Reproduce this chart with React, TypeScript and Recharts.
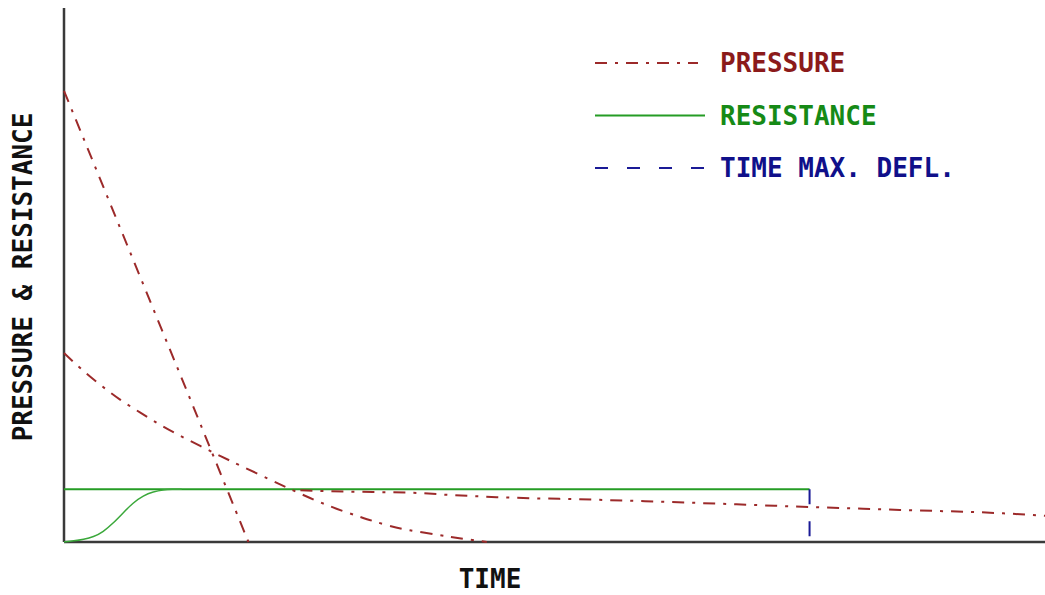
import React from "react";
import { LineChart, Line, XAxis, YAxis, ReferenceLine, Legend } from "recharts";

// time axis runs 0..100, pressure/resistance axis 0..100
const steepTime = [0, 7.8, 13.9, 18.8];
const steepPressure = [84.5, 49.5, 22.1, 0];

const decayTime = [0, 1.6, 3.7, 5.7, 7.8, 9.8, 11.8, 13.9, 15.9, 17.9, 21.3, 23.3, 25.1, 26.8, 28.4, 30.2, 31.5, 33.2, 35.0, 38.3, 40.1, 43.1];
const decayPressure = [35.4, 32.6, 29.4, 26.6, 24.2, 21.9, 19.9, 18.0, 16.1, 14.4, 11.4, 9.7, 8.2, 6.9, 5.8, 4.7, 3.9, 3.0, 2.2, 1.3, 0.75, 0];

const tailTime = [24.1, 26.1, 31.5, 36.0, 39.4, 44.1, 54.6, 64.8, 76.0, 85.2, 95.4, 100];
const tailPressure = [9.7, 9.55, 9.36, 9.18, 8.8, 8.4, 7.9, 7.3, 6.55, 6.0, 5.4, 4.9];

const riseTime = [0, 1.0, 2.0, 3.0, 4.0, 5.0, 6.0, 7.0, 8.1, 9.1, 10.1, 11.0, 12.0];
const riseResistance = [0, 0.2, 0.5, 0.95, 1.9, 3.5, 5.4, 7.3, 8.7, 9.4, 9.8, 9.9, 9.9];

const maxResistance = 9.9;
const maxDeflTime = 76.0;
const maxDeflRange = [9.9, 0.9];

const legendItems = [
  { label: "PRESSURE", color: "#8b1a1a", stroke: "#9c2a2a", dash: "12 8 3 8", len: 103 },
  { label: "RESISTANCE", color: "#168a16", stroke: "#259c25", dash: undefined, len: 110 },
  { label: "TIME MAX. DEFL.", color: "#10108a", stroke: "#1a1a96", dash: "13 19", len: 110 },
];

const zip = (t: number[], v: number[]) => t.map((x, i) => ({ t: x, v: v[i] }));

const steep = zip(steepTime, steepPressure);
const decay = zip(decayTime, decayPressure);
const tail = zip(tailTime, tailPressure);
const rise = zip(riseTime, riseResistance);
const plateau = [{ t: 0, v: maxResistance }, { t: maxDeflTime, v: maxResistance }];
const defl = maxDeflRange.map((v) => ({ t: maxDeflTime, v }));

const FONT = "'DejaVu Sans Mono', monospace";
const PRESSURE_STROKE = "#9c2a2a";
const PRESSURE_DASH = "12 8 3 8";

function LegendBox() {
  return (
    <svg width={420} height={150}>
      {legendItems.map((it, i) => {
        const y = 23 + i * 52.5;
        return (
          <g key={it.label}>
            <line x1={15} x2={15 + it.len} y1={y} y2={y} stroke={it.stroke} strokeWidth={2} strokeDasharray={it.dash} />
            <text x={140} y={y + 9} fill={it.color} fontFamily={FONT} fontWeight="bold" fontSize={26}>
              {it.label}
            </text>
          </g>
        );
      })}
    </svg>
  );
}

export default function App() {
  return (
    <div style={{ position: "absolute", left: 0, top: 0, width: 1045, height: 595, background: "#fff" }}>
      <LineChart width={1045} height={595} margin={{ top: 8, right: 0, left: 64, bottom: 53 }}>
        <XAxis dataKey="t" type="number" domain={[0, 100]} hide />
        <YAxis dataKey="v" type="number" domain={[0, 100]} hide />
        <ReferenceLine x={0} stroke="#3a3a3a" strokeWidth={2.5} />
        <ReferenceLine y={0} stroke="#3a3a3a" strokeWidth={2.5} />
        <Line data={plateau} dataKey="v" type="linear" stroke="#259c25" strokeWidth={2} dot={false} isAnimationActive={false} />
        <Line data={rise} dataKey="v" type="basis" stroke="#3aa83a" strokeWidth={1.5} dot={false} isAnimationActive={false} />
        <Line data={steep} dataKey="v" type="monotone" stroke={PRESSURE_STROKE} strokeWidth={2} strokeDasharray={PRESSURE_DASH} dot={false} isAnimationActive={false} />
        <Line data={decay} dataKey="v" type="basis" stroke={PRESSURE_STROKE} strokeWidth={2} strokeDasharray={PRESSURE_DASH} dot={false} isAnimationActive={false} />
        <Line data={tail} dataKey="v" type="monotone" stroke={PRESSURE_STROKE} strokeWidth={2} strokeDasharray={PRESSURE_DASH} dot={false} isAnimationActive={false} />
        <Line data={defl} dataKey="v" type="linear" stroke="#1a1a96" strokeWidth={2} strokeDasharray="15 17" dot={false} isAnimationActive={false} />
        <Legend
          layout="vertical"
          align="center"
          verticalAlign="middle"
          wrapperStyle={{ left: 580, top: 40, width: 420 }}
          content={() => <LegendBox />}
        />
        <text x={32} y={277} transform="rotate(-90 32 277)" textAnchor="middle" fontFamily={FONT} fontWeight="bold" fontSize={26} fill="#111">
          PRESSURE &amp; RESISTANCE
        </text>
        <text x={490} y={588} textAnchor="middle" fontFamily={FONT} fontWeight="bold" fontSize={26} fill="#111">
          TIME
        </text>
      </LineChart>
    </div>
  );
}
